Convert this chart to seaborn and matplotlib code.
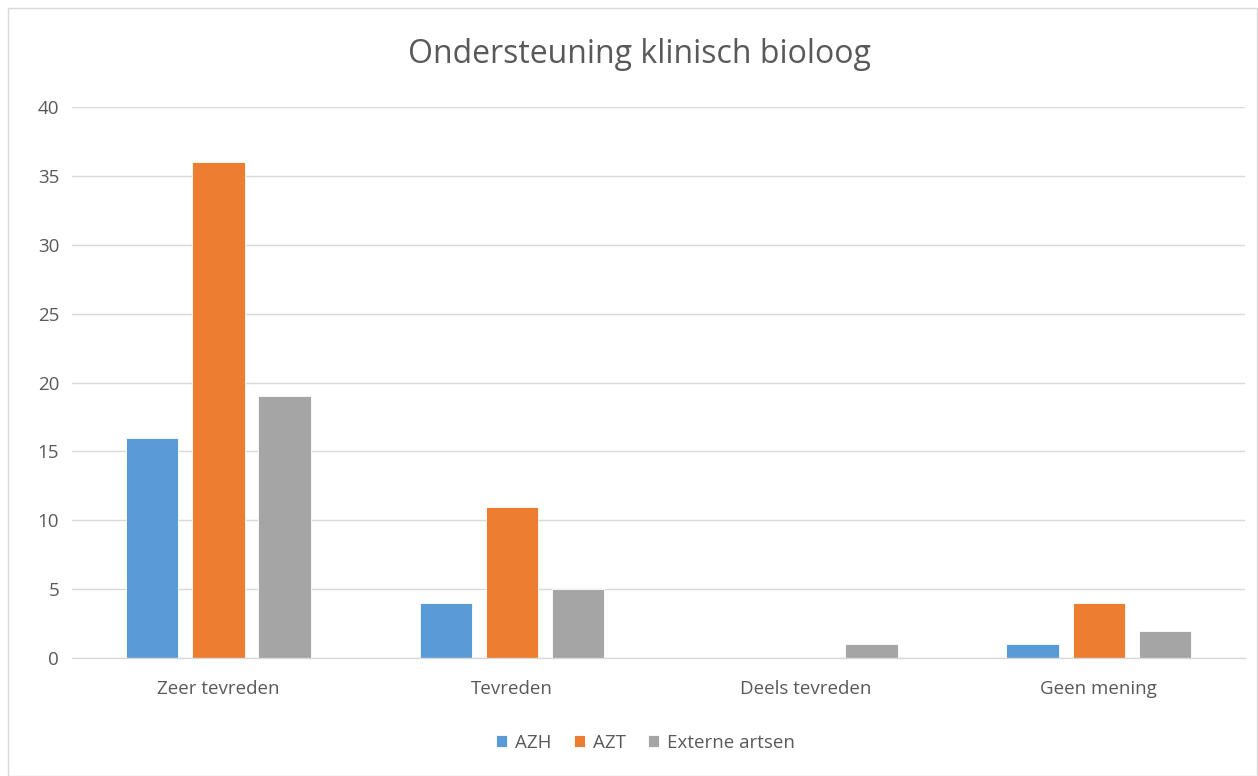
import matplotlib
matplotlib.use("Agg")
import matplotlib.pyplot as plt
import seaborn as sns
import pandas as pd
from matplotlib.patches import Rectangle

categories = ["Zeer tevreden", "Tevreden", "Deels tevreden", "Geen mening"]
series_names = ["AZH", "AZT", "Externe artsen"]
azh = [16, 4, 0, 1]
azt = [36, 11, 0, 4]
externe = [19, 5, 1, 2]
colors = ["#5B9BD5", "#ED7D31", "#A5A5A5"]
title = "Ondersteuning klinisch bioloog"

rows = []
for name, vals in zip(series_names, [azh, azt, externe]):
    for c, v in zip(categories, vals):
        rows.append({"Categorie": c, "Reeks": name, "Waarde": v})
df = pd.DataFrame(rows)

sns.set_theme(style="white")
plt.rcParams["font.family"] = ["Open Sans", "DejaVu Sans"]
text_color = "#595959"

fig = plt.figure(figsize=(12.58, 7.76), dpi=100)
ax = fig.add_axes([0.057, 0.152, 0.933, 0.71])

sns.barplot(data=df, x="Categorie", y="Waarde", hue="Reeks", order=categories,
            hue_order=series_names, palette=colors, width=0.676, gap=0.21,
            ax=ax, saturation=1, legend=True, edgecolor="white", linewidth=0.6)

ax.set_xlim(-0.5, 3.5)
ax.set_ylim(0, 40)
ax.set_yticks(range(0, 41, 5))
ax.yaxis.grid(True, color="#D9D9D9", linewidth=1)
ax.set_axisbelow(True)
for s in ["top", "right", "left"]:
    ax.spines[s].set_visible(False)
ax.spines["bottom"].set_color("#D9D9D9")
ax.spines["bottom"].set_linewidth(1)
ax.set_xlabel("")
ax.set_ylabel("")
ax.tick_params(axis="both", length=0, colors=text_color, labelsize=13.5)
ax.tick_params(axis="x", pad=16)
ax.tick_params(axis="y", pad=9)

handles, labels = ax.get_legend_handles_labels()
ax.get_legend().remove()
fig.legend(handles, labels, loc="center", bbox_to_anchor=(0.513, 0.043), ncol=3,
           frameon=False, fontsize=13.5, handlelength=0.6, handleheight=0.6,
           handletextpad=0.4, columnspacing=1.2, labelcolor=text_color)

fig.text(0.508, 0.93, title, ha="center", va="center", fontsize=23, color=text_color)

fig.patches.append(Rectangle((0.006, 0.0), 0.993, 0.99, transform=fig.transFigure,
                             fill=False, edgecolor="#D9D9D9", linewidth=1))

fig.savefig("out.png", dpi=100)
